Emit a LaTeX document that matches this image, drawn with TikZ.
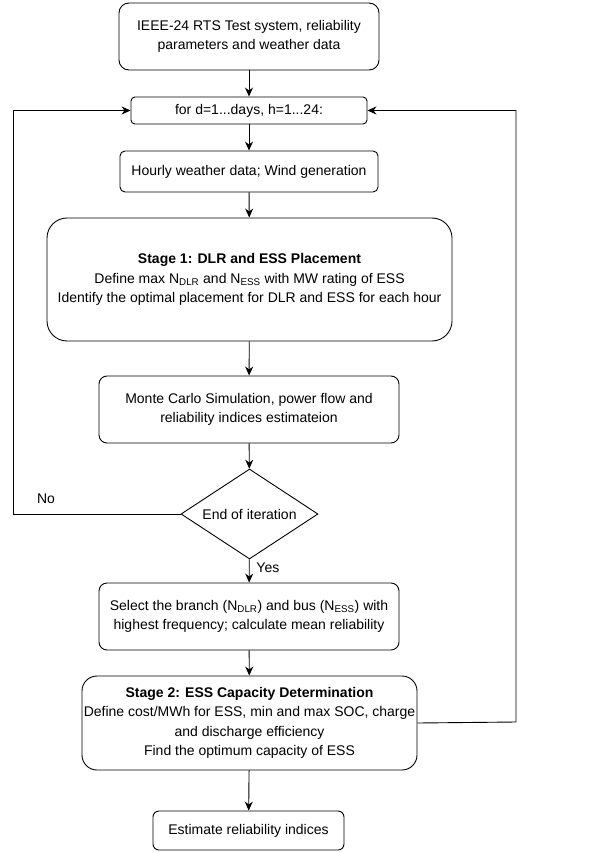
\documentclass[tikz,border=0pt]{standalone}
\usepackage{fontspec}
\setmainfont{Liberation Sans}
\usetikzlibrary{arrows.meta,shapes.geometric}

\begin{document}
\begin{tikzpicture}[x=1pt,y=-1pt,font=\fontsize{14}{19.5}\selectfont,line width=0.9pt,>={Stealth[length=9pt,width=8pt]},
box/.style={draw,rounded corners=#1,align=center,inner sep=0pt,fill=white},
dec/.style={draw,diamond,aspect=1.52,minimum width=137pt,minimum height=90pt,inner sep=0pt,fill=white}]
\useasboundingbox (0,0) rectangle (602,853);
% main column
\node[box=10pt,minimum width=260pt,minimum height=67pt] (input) at (249,36.5) {IEEE-24 RTS Test system, reliability\\parameters and weather data};
\node[box=4pt,minimum width=236pt,minimum height=27pt] (loop) at (249,110.5) {for d=1...days, h=1...24:};
\node[box=5pt,minimum width=258pt,minimum height=41pt] (hourly) at (249,171.5) {Hourly weather data; Wind generation};
\node[box=20pt,minimum width=405pt,minimum height=123pt] (stage1) at (249.5,279.5) {\textbf{Stage 1: DLR and ESS Placement}\\Define max N\textsubscript{DLR} and N\textsubscript{ESS} with MW rating of ESS\\Identify the optimal placement for DLR and ESS for each hour};
\node[box=8pt,minimum width=300pt,minimum height=67pt] (mcs) at (249,409.5) {Monte Carlo Simulation, power flow and\\reliability indices estimateion};
\node[dec] (enditer) at (249.5,514) {End of iteration};
\node[box=8pt,minimum width=300pt,minimum height=67pt] (select) at (249,616.5) {Select the branch (N\textsubscript{DLR}) and bus (N\textsubscript{ESS}) with\\highest frequency; calculate mean reliability};
\node[box=15pt,minimum width=335pt,minimum height=94pt] (stage2) at (249.5,723) {\textbf{Stage 2: ESS Capacity Determination}\\Define cost/MWh for ESS, min and max SOC, charge\\and discharge efficiency\\Find the optimum capacity of ESS};
\node[box=6pt,minimum width=191pt,minimum height=39pt] (final) at (248.5,830.5) {Estimate reliability indices};
% straight arrows
\foreach \a/\b in {input/loop,loop/hourly,hourly/stage1,stage1/mcs,mcs/enditer,enditer/select,select/stage2,stage2/final}
  \draw[->] (\a) -- (\b);
% feedback loops
\coordinate (nobend) at (13,514);
\coordinate (backbend) at (516,722);
\draw[->] (enditer.west) -- (nobend) |- (loop.west);
\draw[->] (stage2.east) -- (backbend) |- (loop.east);
\node (nolbl) at (46,499) {No};
\node[anchor=west,inner sep=0pt] (yeslbl) at (256,568) {Yes};
\end{tikzpicture}
\end{document}
